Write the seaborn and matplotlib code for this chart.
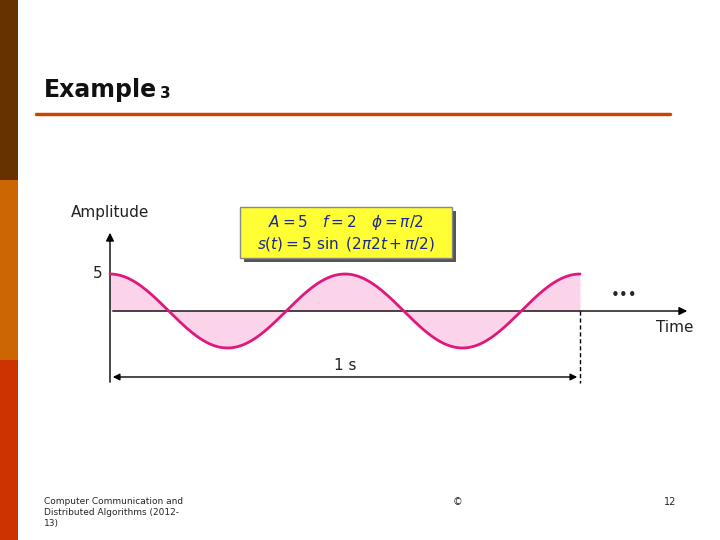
import numpy as np
import pandas as pd
import matplotlib
matplotlib.use("Agg")
import matplotlib.pyplot as plt
import seaborn as sns
from matplotlib.patches import Rectangle, FancyArrowPatch

# --- signal parameters (from the chart's formula box) ---
amp = 5
freq = 2
phase = np.pi / 2
duration = 1.0
t = np.linspace(0, duration, 400)
df = pd.DataFrame({"t": t, "s": amp * np.sin(2 * np.pi * freq * t + phase)})

sns.set_style("white")
fig = plt.figure(figsize=(7.2, 5.4), dpi=100)
ax = fig.add_axes([0, 0, 1, 1])
# pixel mapping: x = 110 + 470*t, y = 311 - 7.4*s
px = lambda x: (x - 110) / 470
py = lambda y: (311 - y) / 7.4
ax.set_xlim(px(0), px(720))
ax.set_ylim(py(540), py(0))
ax.axis("off")

# slide side stripes
for y0, y1, c in [(0, 180, "#663300"), (180, 360, "#cc6600"), (360, 540, "#cc3300")]:
    ax.add_patch(Rectangle((px(0), py(y1)), px(18) - px(0), py(y0) - py(y1), color=c, lw=0))

# title + rule
ax.text(px(44), py(90), "Example", fontsize=17, fontweight="bold", va="center", color="#111")
ax.text(px(160), py(93), "3", fontsize=11, fontweight="bold", va="center", color="#111")
ax.plot([px(36), px(670)], [py(114), py(114)], color="#cc4400", lw=2.5)

# signal
ax.fill_between(df["t"], df["s"], 0, color="#fcd4ea", lw=0)
sns.lineplot(data=df, x="t", y="s", ax=ax, color="#e0187c", lw=2)

# axes arrows
ax.add_patch(FancyArrowPatch((0, py(385)), (0, py(230)), arrowstyle="-|>", mutation_scale=12, color="k", lw=1))
ax.add_patch(FancyArrowPatch((0, 0), (px(690), 0), arrowstyle="-|>", mutation_scale=12, color="k", lw=1))
ax.text(px(624), py(296), "•••", fontsize=11, ha="center", va="center")
ax.text(px(675), py(328), "Time", fontsize=11, ha="center", va="center", color="#222")
ax.text(px(110), py(213), "Amplitude", fontsize=11, ha="center", va="center", color="#222")
ax.text(px(98), amp, str(amp), fontsize=11, ha="center", va="center", color="#222")

# duration marker
ax.plot([duration, duration], [0, py(383)], color="k", lw=1, ls=(0, (3, 2)))
ax.add_patch(FancyArrowPatch((0, py(377)), (duration, py(377)), arrowstyle="<|-|>", mutation_scale=10, color="k", lw=1))
ax.text(duration / 2, py(365), "1 s", fontsize=11, ha="center", va="center", color="#222")

# formula box
ax.add_patch(Rectangle((px(244), py(262)), px(456) - px(244), py(211) - py(262), color="#555", lw=0))
ax.add_patch(Rectangle((px(240), py(258)), px(452) - px(240), py(207) - py(258),
                       facecolor="#ffff33", edgecolor="#888", lw=1))
ax.text(px(346), py(222), r"$A = 5 \quad f = 2 \quad \phi = \pi/2$", fontsize=11,
        ha="center", va="center", color="#1a2a8c")
ax.text(px(346), py(244), r"$s(t) = 5\ \sin\ (2\pi 2t + \pi/2)$", fontsize=11,
        ha="center", va="center", color="#1a2a8c")

# footer
ax.text(px(44), py(497), "Computer Communication and\nDistributed Algorithms (2012-\n13)",
        fontsize=6.5, va="top", ha="left", linespacing=1.3)
ax.text(px(457), py(502), "©", fontsize=7, ha="center", va="center")
ax.text(px(670), py(502), "12", fontsize=7, ha="center", va="center")

fig.savefig("out.png", dpi=100)
